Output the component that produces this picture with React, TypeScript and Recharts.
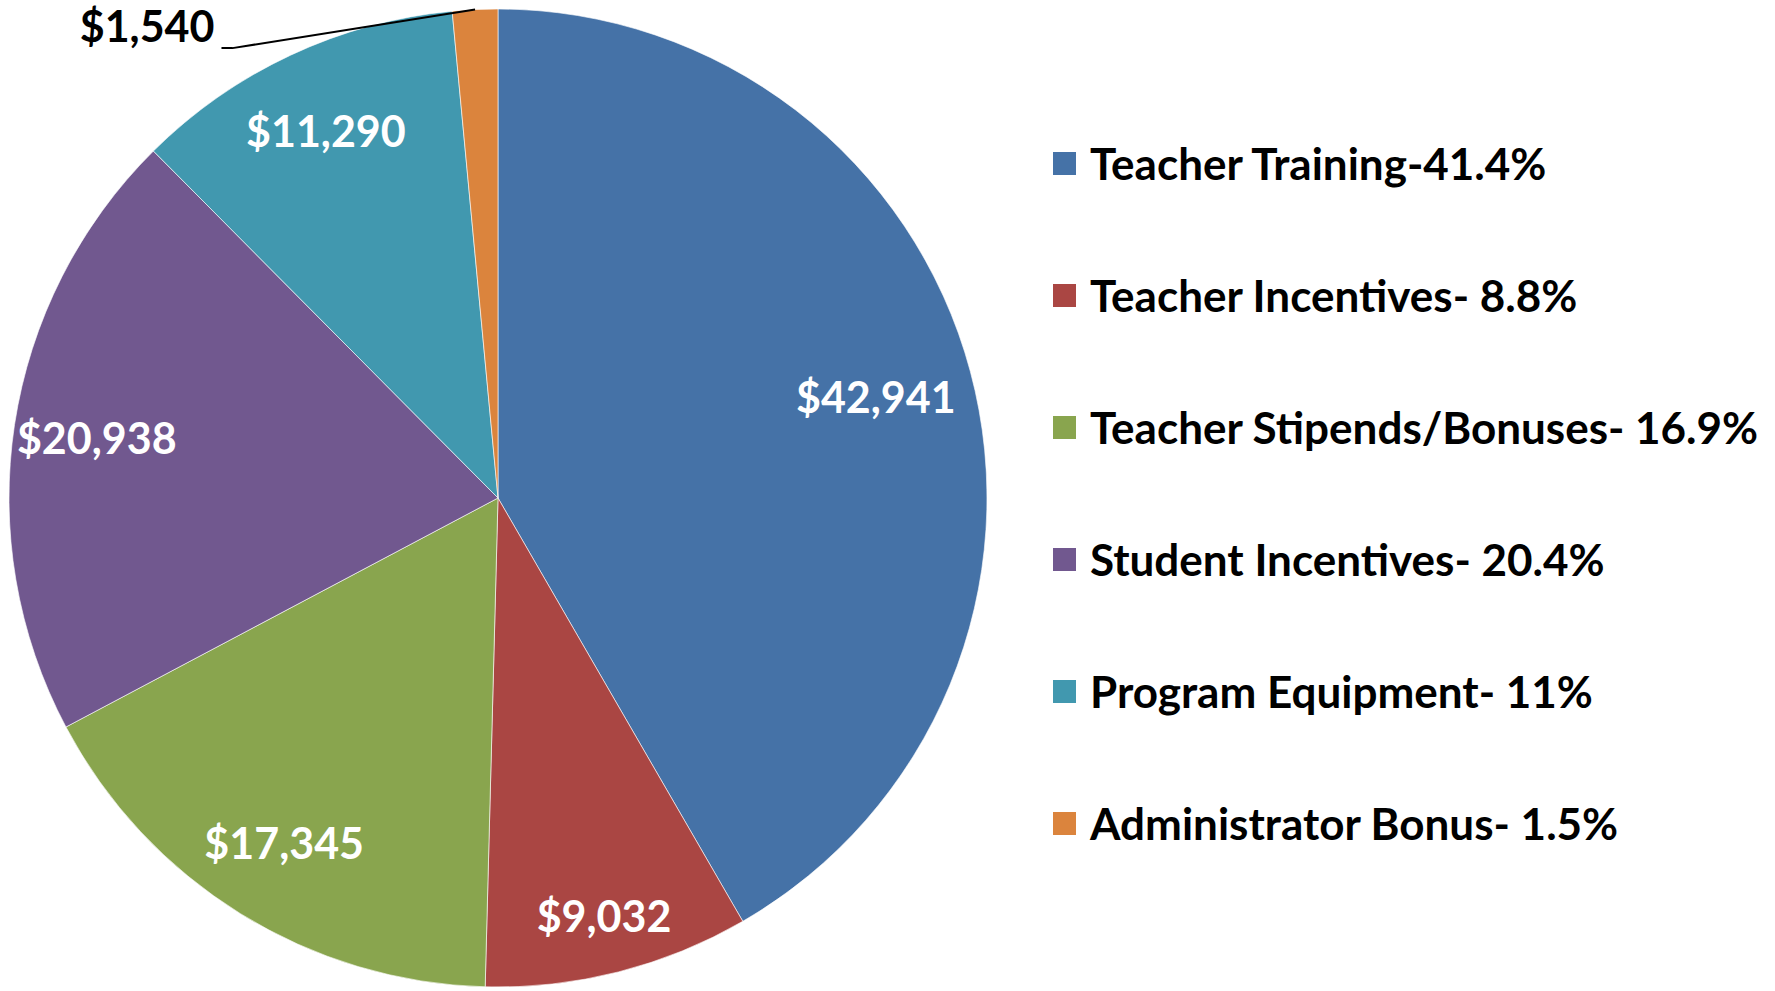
import { PieChart, Pie, Cell, Legend } from 'recharts'

const categories = [
  'Teacher Training',
  'Teacher Incentives',
  'Teacher Stipends/Bonuses',
  'Student Incentives',
  'Program Equipment',
  'Administrator Bonus',
]
const amounts = [42941, 9032, 17345, 20938, 11290, 1540]
const legendLabels = [
  'Teacher Training-41.4%',
  'Teacher Incentives- 8.8%',
  'Teacher Stipends/Bonuses- 16.9%',
  'Student Incentives- 20.4%',
  'Program Equipment- 11%',
  'Administrator Bonus- 1.5%',
]
const colors = ['#4572A7', '#AA4643', '#89A54E', '#71588F', '#4198AF', '#DB843D']

const FONT = 'Lato, "Open Sans", sans-serif'
const RAD = Math.PI / 180

const data = categories.map((name, i) => ({ name, value: amounts[i], legend: legendLabels[i] }))

function fmt(v: number) {
  return '$' + v.toLocaleString('en-US')
}

function renderLabel(props: any) {
  const { cx, cy, midAngle, outerRadius, percent, value } = props
  if (percent < 0.03) {
    // small slice: label outside with a leader line
    const ex = cx + outerRadius * Math.cos(-midAngle * RAD)
    const ey = cy + outerRadius * Math.sin(-midAngle * RAD)
    const kx = cx - outerRadius * 0.543
    const ky = cy - outerRadius * 0.92
    return (
      <g>
        <polyline
          points={`${ex},${ey} ${kx},${ky} ${kx - 11},${ky}`}
          fill="none"
          stroke="#000"
          strokeWidth={2}
        />
        <text
          x={kx - 18}
          y={ky - 23}
          textAnchor="end"
          dominantBaseline="central"
          fill="#000"
          fontFamily={FONT}
          fontWeight={700}
          fontSize={43}
        >
          {fmt(value)}
        </text>
      </g>
    )
  }
  // narrow slices push the label outwards, like Excel's best fit
  const k = percent > 0.3 ? 0.8 : percent < 0.1 ? 0.88 : 0.83
  const r = outerRadius * k
  const x = cx + r * Math.cos(-midAngle * RAD)
  const y = cy + r * Math.sin(-midAngle * RAD)
  return (
    <text
      x={x}
      y={y}
      textAnchor="middle"
      dominantBaseline="central"
      fill="#fff"
      fontFamily={FONT}
      fontWeight={700}
      fontSize={43}
    >
      {fmt(value)}
    </text>
  )
}

function LegendList() {
  return (
    <div style={{ fontFamily: FONT, fontWeight: 700, fontSize: 44, color: '#000' }}>
      {data.map((d, i) => (
        <div key={d.name} style={{ height: 132, display: 'flex', alignItems: 'center' }}>
          <span
            style={{ width: 23, height: 23, background: colors[i], display: 'inline-block', marginRight: 14 }}
          />
          <span style={{ whiteSpace: 'nowrap' }}>{d.legend}</span>
        </div>
      ))}
    </div>
  )
}

export default function App() {
  return (
    <div style={{ position: 'absolute', left: 0, top: 0, width: 1775, height: 991, background: '#fff' }}>
      <PieChart width={1775} height={991} margin={{ top: 0, right: 0, bottom: 0, left: 0 }}>
        <Pie
          data={data}
          dataKey="value"
          nameKey="name"
          cx={498}
          cy={498}
          outerRadius={489}
          startAngle={90}
          endAngle={-270}
          stroke="#ffffff"
          strokeOpacity={0.6}
          strokeWidth={1}
          label={renderLabel}
          labelLine={false}
          isAnimationActive={false}
        >
          {data.map((d, i) => (
            <Cell key={d.name} fill={colors[i]} />
          ))}
        </Pie>
        <Legend
          content={<LegendList />}
          wrapperStyle={{ position: 'absolute', left: 1053, top: 97, width: 720 }}
        />
      </PieChart>
    </div>
  )
}
